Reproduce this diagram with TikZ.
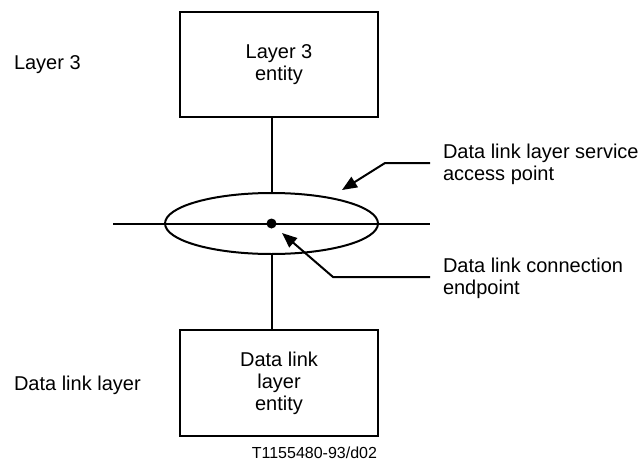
\documentclass[tikz,border=0pt]{standalone}
\usepackage{fontspec}
\setmainfont{Liberation Sans}
\usetikzlibrary{arrows.meta,shapes.geometric}
\begin{document}
\begin{tikzpicture}[x=1pt,y=-1pt, line width=2pt,
  box/.style={draw, minimum width=198pt, minimum height=105pt, align=center,
    font=\fontsize{20}{22}\selectfont, inner sep=0pt},
  lbl/.style={anchor=base west, inner sep=0pt, font=\fontsize{20}{22}\selectfont},
  arr/.style={-{Triangle[length=15pt,width=12pt]}, line join=miter}
]
\useasboundingbox[fill=white] (0,0) rectangle (640,461);
\node[box] (top) at (279,64.5) {Layer 3\\entity};
\node[box, minimum height=106pt] (bot) at (279,383) {Data link\\layer\\entity};
\node[draw, ellipse, minimum width=213pt, minimum height=61pt, inner sep=0pt] (sap) at (271.5,223.5) {};
\coordinate (hl) at (113,223.5);
\coordinate (hr) at (430,223.5);
\draw (hl) -- (hr);
\node[fill, circle, minimum size=10pt, inner sep=0pt] (dot) at (271.5,223.5) {};
\draw (top.south -| sap.north) -- (sap.north);
\draw (sap.south) -- (bot.north -| sap.south);
% labels
\node[lbl] (l3) at (13,69) {Layer 3};
\node[lbl] (dll) at (13,390) {Data link layer};
\node[lbl] (s1) at (442,158) {Data link layer service};
\node[lbl] (s2) at (442,180) {access point};
\node[lbl] (e1) at (442,272) {Data link connection};
\node[lbl] (e2) at (442,294) {endpoint};
\node[anchor=base east, inner sep=0pt, font=\fontsize{16}{19}\selectfont] (code) at (378,458) {T1155480-93/d02};
% arrows
\coordinate (a1) at (430,163);
\coordinate (a1k) at (385,163);
\coordinate (t1) at (342,190);
\draw[arr] (a1) -- (a1k) -- (t1);
\coordinate (a2) at (430,277);
\coordinate (a2k) at (333,277);
\coordinate (t2) at (282,233);
\draw[arr] (a2) -- (a2k) -- (t2);
\end{tikzpicture}
\end{document}
